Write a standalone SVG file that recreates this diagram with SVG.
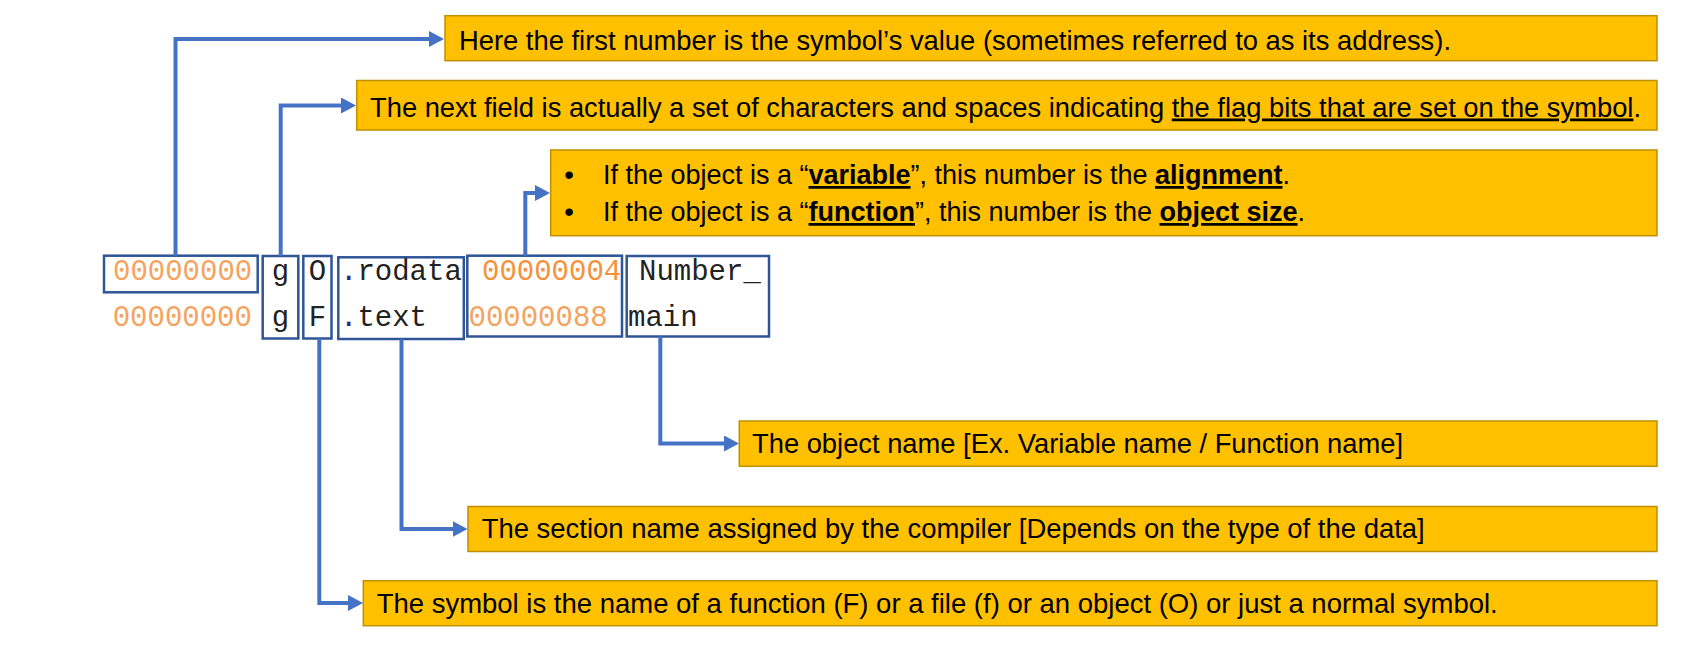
<svg xmlns="http://www.w3.org/2000/svg" width="1688" height="661" viewBox="0 0 1688 661">
<style>
.cb{fill:#FFC000;stroke:#BF9000;stroke-width:1.5}
.tb{fill:none;stroke:#2F5597;stroke-width:2.5}
.ct{font-family:"Liberation Sans",Arial,sans-serif;font-size:27.5px;fill:#000}
.mono{font-family:"Liberation Mono","Courier New",monospace;font-size:29px;fill:#222}
.num{fill:#F5A35E}
.num2{fill:#F7913A}
.dot{fill:#1F2A80}
.conn{fill:none;stroke:#4472C4;stroke-width:4}
.u{text-decoration:underline}
.ub{text-decoration:underline;font-weight:bold}
</style>
<defs>
<marker id="arr" markerUnits="userSpaceOnUse" markerWidth="15" markerHeight="16" viewBox="0 0 15 16" refX="0.5" refY="8" orient="auto">
<path d="M0,0 L15,8 L0,16 Z" fill="#4472C4"/>
</marker>
</defs>

<g id="table">
<g id="col-value">
<rect class="tb" x="104" y="255.7" width="153.7" height="36.6"/>
<text class="mono num" x="113" y="280">00000000</text>
<text class="mono num" x="112.7" y="326">00000000</text>
</g>
<g id="col-g">
<rect class="tb" x="262.7" y="256" width="35.6" height="82.5"/>
<text class="mono" x="280.5" y="280" text-anchor="middle">g</text>
<text class="mono" x="280.5" y="326" text-anchor="middle">g</text>
</g>
<g id="col-type">
<rect class="tb" x="303.3" y="256" width="28.2" height="82.5"/>
<text class="mono" x="317.4" y="280" text-anchor="middle">O</text>
<text class="mono" x="317.4" y="326" text-anchor="middle">F</text>
</g>
<g id="col-section">
<rect class="tb" x="338.3" y="257.3" width="125.5" height="81.7"/>
<text class="mono" x="340" y="280"><tspan class="dot">.</tspan>rodata</text>
<text class="mono" x="340" y="326"><tspan class="dot">.</tspan>text</text>
</g>
<g id="col-size">
<rect class="tb" x="467.3" y="255.7" width="154.7" height="80.8"/>
<text class="mono num2" x="482" y="280">00000004</text>
<text class="mono num" x="468.5" y="326">00000088</text>
</g>
<g id="col-name">
<rect class="tb" x="626.7" y="256" width="142.3" height="80.5"/>
<text class="mono" x="639" y="280">Number_</text>
<text class="mono" x="628" y="326">main</text>
</g>
</g>

<g id="connectors">
<path class="conn" d="M175.5,255.7 V39 H429.5" marker-end="url(#arr)"/>
<path class="conn" d="M280.7,256 V105.5 H341.5" marker-end="url(#arr)"/>
<path class="conn" d="M525.3,255.7 V193 H535.5" marker-end="url(#arr)"/>
<path class="conn" d="M660.3,336.5 V443.5 H724.5" marker-end="url(#arr)"/>
<path class="conn" d="M401.5,339 V529 H453" marker-end="url(#arr)"/>
<path class="conn" d="M319.3,338.5 V603 H348.5" marker-end="url(#arr)"/>
</g>

<g id="callout-value">
<rect class="cb" x="445" y="15.7" width="1212" height="45"/>
<text class="ct" x="459" y="49.5" textLength="992" lengthAdjust="spacingAndGlyphs">Here the first number is the symbol’s value (sometimes referred to as its address).</text>
</g>
<g id="callout-flags">
<rect class="cb" x="356.7" y="80.5" width="1300.3" height="49.5"/>
<text class="ct" x="370" y="116.5" textLength="1271" lengthAdjust="spacingAndGlyphs">The next field is actually a set of characters and spaces indicating <tspan class="u">the flag bits that are set on the symbol</tspan>.</text>
</g>
<g id="callout-size">
<rect class="cb" x="550.7" y="150" width="1106.3" height="85.7"/>
<text class="ct" x="569" y="184" text-anchor="middle">•</text>
<text class="ct" x="569" y="221" text-anchor="middle">•</text>
<text class="ct" x="603" y="184" textLength="687" lengthAdjust="spacingAndGlyphs">If the object is a “<tspan class="ub">variable</tspan>”, this number is the <tspan class="ub">alignment</tspan>.</text>
<text class="ct" x="603" y="221" textLength="702" lengthAdjust="spacingAndGlyphs">If the object is a “<tspan class="ub">function</tspan>”, this number is the <tspan class="ub">object size</tspan>.</text>
</g>
<g id="callout-name">
<rect class="cb" x="739.3" y="421" width="917.7" height="45.3"/>
<text class="ct" x="752" y="453.3" textLength="651" lengthAdjust="spacingAndGlyphs">The object name [Ex. Variable name / Function name]</text>
</g>
<g id="callout-section">
<rect class="cb" x="468" y="506.5" width="1189" height="45"/>
<text class="ct" x="481.7" y="538.3" textLength="943" lengthAdjust="spacingAndGlyphs">The section name assigned by the compiler [Depends on the type of the data]</text>
</g>
<g id="callout-symbol">
<rect class="cb" x="363.3" y="580.7" width="1293.7" height="45"/>
<text class="ct" x="376.7" y="612.7" textLength="1121" lengthAdjust="spacingAndGlyphs">The symbol is the name of a function (F) or a file (f) or an object (O) or just a normal symbol.</text>
</g>
</svg>
